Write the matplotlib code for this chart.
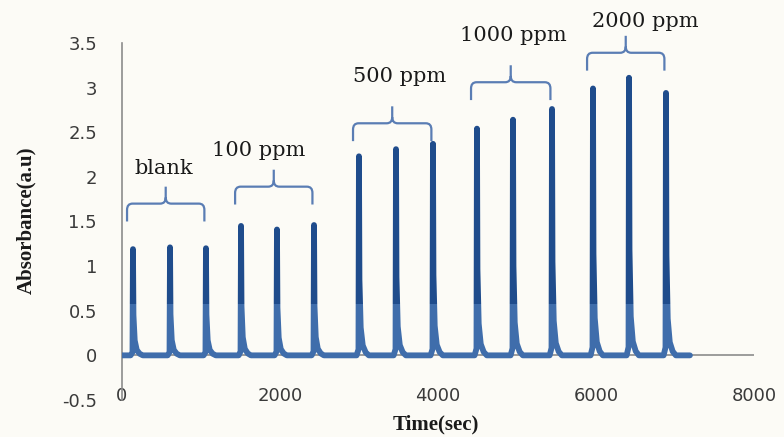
import numpy as np
import matplotlib.pyplot as plt
from matplotlib.patches import Rectangle, PathPatch
from matplotlib.path import Path

# injection times (sec) and peak absorbance for each standard, 3 replicates each
groups = ["blank", "100 ppm", "500 ppm", "1000 ppm", "2000 ppm"]
peak_times = [
    [139, 608, 1063],
    [1507, 1962, 2431],
    [3000, 3469, 3937],
    [4494, 4950, 5444],
    [5963, 6419, 6887],
]
peak_heights = [
    [1.19, 1.21, 1.20],
    [1.45, 1.41, 1.46],
    [2.23, 2.31, 2.37],
    [2.54, 2.64, 2.76],
    [2.99, 3.11, 2.94],
]
# shape of one peak: time offset from the maximum and fraction of its height
peak_dt = [-30, -6, 0, 6, 22, 48, 85, 125]
peak_frac = [0.0, 0.03, 1.0, 0.38, 0.14, 0.05, 0.015, 0.0]
run_end = 7190

xticks = [0, 2000, 4000, 6000, 8000]
yticks = [-0.5, 0, 0.5, 1, 1.5, 2, 2.5, 3, 3.5]

# assemble the detector trace
t = [0.0]
a = [0.0]
for times, heights in zip(peak_times, peak_heights):
    for tp, hp in zip(times, heights):
        t.extend(tp + np.array(peak_dt, dtype=float))
        a.extend(hp * np.array(peak_frac))
t.append(run_end)
a.append(0.0)

bg = "#fcfbf6"
dark = "#1f4c8c"
light = "#3f6dab"
brace_col = "#5a7db4"

fig = plt.figure(figsize=(7.84, 4.37), dpi=100, facecolor=bg)
ax = fig.add_axes([0.1556, 0.0847, 0.806, 0.817], facecolor=bg)

ax.axhline(0, color="#8c8c8c", lw=1.2, zorder=1)

# upper part of the peaks is darker than the lower part
upper = Rectangle((0, 0.57), 9000, 5, transform=ax.transData)
lower = Rectangle((0, -1), 9000, 1.57, transform=ax.transData)
l1, = ax.plot(t, a, color=dark, lw=4.2, solid_capstyle="round", solid_joinstyle="round", zorder=3)
l1.set_clip_path(upper)
l2, = ax.plot(t, a, color=light, lw=4.2, solid_capstyle="round", solid_joinstyle="round", zorder=3)
l2.set_clip_path(lower)

ax.set_xlim(0, 8000)
ax.set_ylim(-0.5, 3.5)
ax.set_xticks(xticks)
ax.set_yticks(yticks)
ax.set_yticklabels(["%g" % v for v in yticks])
ax.tick_params(axis="both", length=0, labelsize=13, labelcolor="#3a3a3a")
ax.tick_params(axis="y", pad=18)
ax.tick_params(axis="x", pad=-9)
for s in ["top", "right", "bottom"]:
    ax.spines[s].set_visible(False)
ax.spines["left"].set_color("#8c8c8c")
ax.spines["left"].set_linewidth(1.2)


def brace(x0, x1, y, drop=0.2, rise=0.19):
    # curly bracket: rounded ends hanging down, pointed tip in the middle
    xm = (x0 + x1) / 2
    rx, ry = 70, 0.07
    verts = [
        (x0, y - drop), (x0, y - ry), (x0, y), (x0 + rx, y),
        (xm - rx, y), (xm, y), (xm, y + ry), (xm, y + rise),
        (xm, y + ry), (xm, y), (xm + rx, y),
        (x1 - rx, y), (x1, y), (x1, y - ry), (x1, y - drop),
    ]
    codes = [
        Path.MOVETO, Path.LINETO, Path.CURVE3, Path.CURVE3,
        Path.LINETO, Path.CURVE3, Path.CURVE3, Path.LINETO,
        Path.MOVETO, Path.CURVE3, Path.CURVE3,
        Path.LINETO, Path.CURVE3, Path.CURVE3, Path.LINETO,
    ]
    ax.add_patch(PathPatch(Path(verts, codes), fill=False, ec=brace_col,
                           lw=1.6, clip_on=False, zorder=4))


brace_y = [1.70, 1.89, 2.60, 3.06, 3.39]
label_xy = [(532, 2.03), (1735, 2.23), (3519, 3.06), (4950, 3.52), (6621, 3.68)]
for name, times, by, (lx, ly) in zip(groups, peak_times, brace_y, label_xy):
    brace(times[0] - 75, times[-1] - 20, by)
    ax.text(lx, ly, name, ha="center", va="baseline", fontsize=15,
            family="DejaVu Serif", color="#1a1a1a", clip_on=False)

ax.set_xlabel("Time(sec)", family="Liberation Serif", fontweight="bold",
              fontsize=15, color="#1a1a1a")
ax.xaxis.set_label_coords(0.497, -0.07)
ax.xaxis.label.set_va("center")
ax.set_ylabel("Absorbance(a.u)", family="Liberation Serif", fontweight="bold",
              fontsize=15, color="#1a1a1a")
ax.yaxis.set_label_coords(-0.152, 0.503)
ax.yaxis.label.set_va("center")

fig.savefig("out.png", dpi=100, facecolor=bg)
